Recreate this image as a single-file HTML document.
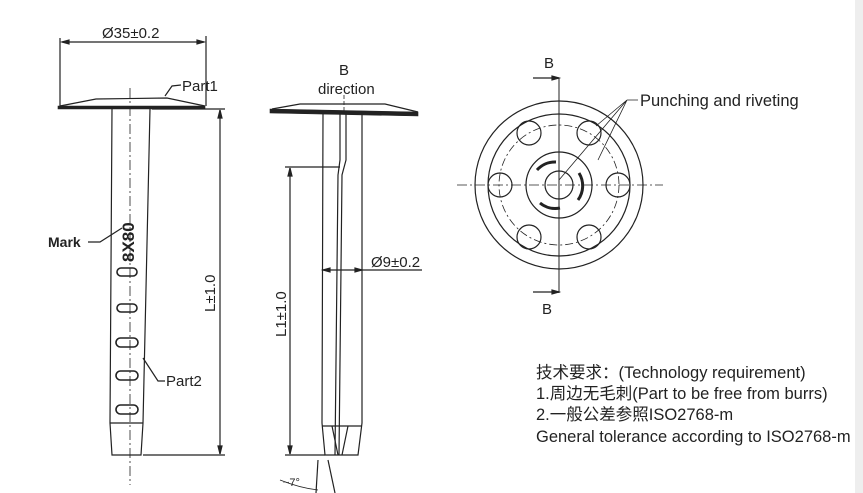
<!DOCTYPE html>
<html><head><meta charset="utf-8"><style>
body{margin:0;background:#fff;}
svg{display:block;}
text{font-family:"Liberation Sans","Noto Sans CJK SC",sans-serif;fill:#222;}
</style></head><body>
<svg width="863" height="493" viewBox="0 0 863 493" xmlns="http://www.w3.org/2000/svg">
<g stroke="#222" fill="none" stroke-width="1.2">
<!-- LEFT VIEW -->
<line x1="60" y1="38" x2="60" y2="106"/><line x1="206" y1="36" x2="206" y2="106"/>
<line x1="62" y1="42" x2="204" y2="42"/>
<path d="M62,42 l7,-2 v4z M204,42 l-7,-2 v4z" fill="#222"/>
<path d="M58,106 L205,106 L205,109 L58,109 Z" fill="#222" stroke-width="0.6"/>
<path d="M60,106 L96,99 L167,98 L205,106" />
<path d="M112,109 L110,423 L112,455 L141,455 L143,423 L150,109"/>
<line x1="110" y1="423" x2="143" y2="423"/>
<line x1="130" y1="88" x2="130" y2="485" stroke-dasharray="10,3,2,3" stroke-width="0.8"/>
<line x1="152" y1="109" x2="225" y2="109"/><line x1="143" y1="455" x2="225" y2="455"/>
<line x1="220" y1="110" x2="220" y2="454"/>
<path d="M220,110 l-2,8 h4z M220,454 l-2,-8 h4z" fill="#222"/>
<g stroke-width="1.6">
<rect x="117" y="268" width="20" height="8" rx="4"/>
<rect x="117" y="304" width="20" height="8" rx="4"/>
<rect x="116" y="338" width="22" height="9" rx="4.5"/>
<rect x="116" y="371" width="22" height="9" rx="4.5"/>
<rect x="116" y="405" width="22" height="9" rx="4.5"/>
</g>
<path d="M88,242 L100,242 L122,228"/>
<path d="M181,85 L172,86 L165,96"/>
<path d="M165,381 L158,381 L143,358"/>
<!-- RIGHT VIEW -->
<path d="M270,109 L418,112 L418,116 L270,113 Z" fill="#222" stroke-width="0.6"/>
<path d="M272,109 L300,104 L385,104 L418,112"/>
<path d="M323,114 L322,423 L325,455 L358,455 L362,423 L362,114"/>
<line x1="322" y1="426" x2="362" y2="426"/>
<path d="M340,114 L340,160 L338,175 L335,455"/>
<path d="M346,114 L346,160 L342,175 L339,455" />
<path d="M332,426 L338,455 M348,426 L342,455"/>
<line x1="344" y1="95" x2="344" y2="112" stroke-dasharray="4,2" stroke-width="0.8"/>
<line x1="285" y1="167" x2="340" y2="167"/><line x1="285" y1="455" x2="325" y2="455"/>
<line x1="290" y1="168" x2="290" y2="454"/>
<path d="M290,168 l-2,8 h4z M290,454 l-2,-8 h4z" fill="#222"/>
<line x1="323" y1="270" x2="422" y2="270"/>
<path d="M323,270 l7,-2 v4z M362,270 l-7,-2 v4z" fill="#222"/>
<line x1="318" y1="460" x2="316" y2="493"/><line x1="328" y1="460" x2="335" y2="493"/>
<path d="M280,480 Q300,488 318,490" stroke-width="0.8"/>
<!-- CIRCLE VIEW -->
<circle cx="559" cy="185" r="84"/>
<circle cx="559" cy="185" r="71"/>
<circle cx="559" cy="185" r="60" stroke-dasharray="8,3,2,3" stroke-width="0.8"/>
<circle cx="559" cy="185" r="33"/>
<circle cx="559" cy="185" r="14"/>
<g stroke-width="1.2">
<circle cx="500" cy="185" r="12"/><circle cx="618" cy="185" r="12"/>
<circle cx="529" cy="133" r="12"/><circle cx="589" cy="133" r="12"/>
<circle cx="529" cy="237" r="12"/><circle cx="589" cy="237" r="12"/>
</g>
<g stroke-width="3">
<path d="M537,170 A24,24 0 0 1 556,162"/>
<path d="M579,173 A24,24 0 0 1 578,200"/>
<path d="M540,203 A24,24 0 0 0 560,208"/>
</g>
<line x1="457" y1="185" x2="663" y2="185" stroke-dasharray="10,3,2,3" stroke-width="0.8"/>
<line x1="559" y1="78" x2="559" y2="293" stroke-width="1"/>
<line x1="533" y1="78" x2="559" y2="78"/><path d="M559,78 l-7,-2 v4z" fill="#222"/>
<line x1="533" y1="292" x2="559" y2="292"/><path d="M559,292 l-7,-2 v4z" fill="#222"/>
<path d="M638,100 L627,100 M627,100 L559,180 M627,100 L598,160 M627,100 L596,126" stroke-width="0.8"/>
</g>
<g font-size="15">
<text x="102" y="38">Ø35±0.2</text>
<text x="182" y="91">Part1</text>
<text x="48" y="247" font-weight="bold" font-size="14">Mark</text>
<text x="166" y="386">Part2</text>
<text transform="translate(134,262) rotate(-90)" font-size="17" font-weight="bold">8X80</text>
<text transform="translate(215,312) rotate(-90)">L±1.0</text>
<text x="339" y="75">B</text>
<text x="318" y="94">direction</text>
<text transform="translate(286,337) rotate(-90)">L1±1.0</text>
<text x="371" y="267">Ø9±0.2</text>
<text x="283" y="486" font-size="11">~7°</text>
<text x="544" y="68">B</text>
<text x="542" y="314">B</text>
<text x="640" y="106" font-size="16.5">Punching and riveting</text>
</g>
<g font-size="16.5">
<text x="536" y="378">技术要求：(Technology  requirement)</text>
<text x="536" y="399">1.周边无毛刺(Part to be free from burrs)</text>
<text x="536" y="420">2.一般公差参照ISO2768-m</text>
<text x="536" y="442">General tolerance according to ISO2768-m</text>
</g>
<rect x="855" y="0" width="8" height="493" fill="#eee"/>
</svg>
</body></html>
